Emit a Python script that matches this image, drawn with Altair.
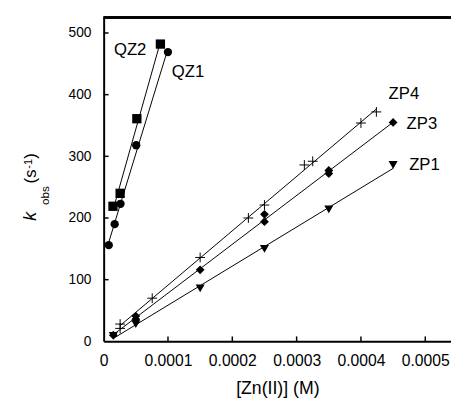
import altair as alt
import pandas as pd

# ---- data ----
qz1_x = [0.0000079, 0.0000171, 0.0000262, 0.0000506, 0.0000999]
qz1_y = [156, 190, 223, 318, 469]
qz2_x = [0.0000145, 0.0000256, 0.0000516, 0.0000882]
qz2_y = [219, 240, 361, 482]
zp4_x = [0.0000256, 0.0000256, 0.0000755, 0.00015, 0.000225, 0.00025, 0.000312, 0.000325, 0.0004, 0.000424]
zp4_y = [21, 28, 70, 136, 200, 221, 286, 292, 354, 372]
zp3_x = [0.000015, 0.00005, 0.00005, 0.00015, 0.00025, 0.00025, 0.00035, 0.00035, 0.00045]
zp3_y = [10, 41, 36, 116, 206, 194, 277, 272, 355]
zp1_x = [0.000015, 0.00005, 0.00015, 0.00025, 0.00035, 0.00045]
zp1_y = [9, 28, 86, 150, 214, 286]

label_text = ["QZ2", "QZ1", "ZP4", "ZP3", "ZP1"]
label_x = [0.000016, 0.000106, 0.000443, 0.000471, 0.000475]
label_y = [472, 437, 401, 352, 285]

x_ticks = [0.0001, 0.0002, 0.0003, 0.0004, 0.0005]
y_ticks = [100, 200, 300, 400, 500]

rows = []
for name, xs, ys in [("QZ1", qz1_x, qz1_y), ("QZ2", qz2_x, qz2_y), ("ZP4", zp4_x, zp4_y),
                     ("ZP3", zp3_x, zp3_y), ("ZP1", zp1_x, zp1_y)]:
    for a, b in zip(xs, ys):
        rows.append({"x": a, "y": b, "series": name})
df = pd.DataFrame(rows)
labels_df = pd.DataFrame({"x": label_x, "y": label_y, "t": label_text})
xt_df = pd.DataFrame({"v": x_ticks})
yt_df = pd.DataFrame({"v": y_ticks})

FONT = "Liberation Sans"
W, H = 354, 330

xscale = alt.Scale(domain=[0, 0.00054], nice=False, zero=False)
yscale = alt.Scale(domain=[0, 525], nice=False, zero=False)

X = alt.X("x:Q", scale=xscale, axis=alt.Axis(
    title="[Zn(II)] (M)", values=[0] + x_ticks, ticks=False, tickSize=0, grid=False,
    labelExpr="datum.value == 0 ? '0' : format(datum.value, '.4f')",
    labelFontSize=16, labelPadding=12, labelFlush=False, titleFontSize=18, titlePadding=11,
    titleFontWeight="normal"))
Y = alt.Y("y:Q", scale=yscale, axis=alt.Axis(
    title=None, values=[0] + y_ticks, ticks=False, tickSize=0, grid=False,
    labelFontSize=14, labelPadding=13, labelFlush=False))

base = alt.Chart(df)

lines = base.transform_regression("x", "y", groupby=["series"]).mark_line(
    color="black", strokeWidth=1).encode(x=X, y=Y, detail="series:N")

def pts(name, shape, size):
    return alt.Chart(df[df.series == name]).mark_point(
        filled=True, shape=shape, size=size, color="black", strokeWidth=0, opacity=1
    ).encode(x=alt.X("x:Q", scale=xscale), y=alt.Y("y:Q", scale=yscale))

p_qz1 = pts("QZ1", "circle", 72)
p_qz2 = pts("QZ2", "square", 90)
p_zp3 = pts("ZP3", "diamond", 80)
p_zp1 = pts("ZP1", "triangle-down", 85)
p_zp4 = alt.Chart(df[df.series == "ZP4"]).mark_point(
    filled=False, shape="M-1,0H1M0,-1V1", size=100, color="black", strokeWidth=1, opacity=1
).encode(x=alt.X("x:Q", scale=xscale), y=alt.Y("y:Q", scale=yscale))

labels = alt.Chart(labels_df).mark_text(
    align="left", baseline="middle", fontSize=17, font=FONT, color="black"
).encode(x=alt.X("x:Q", scale=xscale), y=alt.Y("y:Q", scale=yscale), text="t:N")

xticks = alt.Chart(xt_df).mark_rule(color="black", strokeWidth=1.5).encode(
    x=alt.X("v:Q", scale=xscale), y=alt.value(H), y2=alt.value(H - 5))
yticks = alt.Chart(yt_df).mark_rule(color="black", strokeWidth=1.5).encode(
    y=alt.Y("v:Q", scale=yscale), x=alt.value(0), x2=alt.value(5))

top_rule = alt.Chart(xt_df).mark_rule(color="black", strokeWidth=2).encode(
    x=alt.value(0), x2=alt.value(W), y=alt.value(0))

# y-axis title built from pieces: k_obs (s^-1)
yt = pd.DataFrame({"a": [0]})
def ytxt(text, ypix, xpix, size, style="normal"):
    return alt.Chart(yt).mark_text(
        text=text, angle=270, align="left", baseline="alphabetic",
        fontSize=size, font=FONT, fontStyle=style, color="black"
    ).encode(x=alt.value(xpix), y=alt.value(ypix))

ytitle = (ytxt("k", 221 - 14, 37 - 105.5, 18, "italic")
          + ytxt("obs", 205 - 14, 50 - 105.5, 12)
          + ytxt("(s", 183 - 14, 37 - 105.5, 17)
          + ytxt("-1", 168 - 14, 32 - 105.5, 11)
          + ytxt(")", 158 - 14, 37 - 105.5, 17))

chart = alt.layer(
    lines, p_qz1, p_qz2, p_zp3, p_zp1, p_zp4, labels, xticks, yticks, top_rule, ytitle
).properties(
    width=W, height=H,
    autosize=alt.AutoSizeParams(type="none"),
    padding={"left": 97.5, "top": 6, "right": 0, "bottom": 54},
).configure_view(stroke=None).configure_axis(
    domainColor="black", domainWidth=2, labelColor="black", titleColor="black",
    labelFont=FONT, titleFont=FONT
)

chart.save("out.html", embed_options={"renderer": "svg", "actions": False})
